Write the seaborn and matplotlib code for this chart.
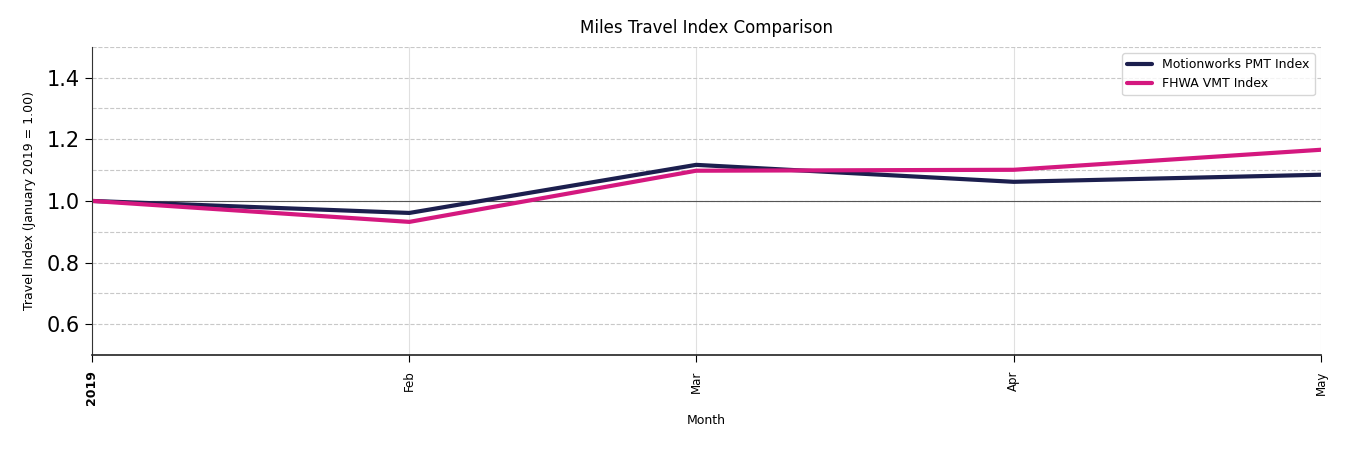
import numpy as np
import pandas as pd
import seaborn as sns
import matplotlib
matplotlib.use("Agg")
import matplotlib.pyplot as plt
from matplotlib.ticker import MultipleLocator

# monthly index values (January 2019 = 1.00)
months = ["2019-01-01", "2019-02-01", "2019-03-01", "2019-04-01", "2019-05-01"]
motionworks_pmt = [1.000, 0.961, 1.117, 1.062, 1.085]
fhwa_vmt = [1.000, 0.932, 1.098, 1.101, 1.166]
series_names = ["Motionworks PMT Index", "FHWA VMT Index"]
tick_labels = ["2019", "Feb", "Mar", "Apr", "May"]

df = pd.DataFrame({
    "Month": pd.to_datetime(months * 2),
    "Index": motionworks_pmt + fhwa_vmt,
    "Series": [series_names[0]] * len(months) + [series_names[1]] * len(months),
})

sns.set_style("white")
plt.rcParams["font.family"] = ["DejaVu Sans"]
plt.rcParams["text.color"] = "black"
plt.rcParams["axes.labelcolor"] = "black"
plt.rcParams["xtick.color"] = "black"
plt.rcParams["ytick.color"] = "black"

fig, ax = plt.subplots(figsize=(13.5, 4.5), dpi=100)
fig.subplots_adjust(left=0.068, right=0.9785, top=0.896, bottom=0.211)

palette = {series_names[0]: "#1c1f4e", series_names[1]: "#d4187f"}
sns.lineplot(data=df, x="Month", y="Index", hue="Series", palette=palette,
             linewidth=3, ax=ax)

ax.axhline(1.0, color="#555555", linewidth=0.8, zorder=1)

ax.set_ylim(0.5, 1.5)
ax.set_xlim(pd.Timestamp(months[0]), pd.Timestamp(months[-1]))
ax.yaxis.set_major_locator(MultipleLocator(0.2))
ax.yaxis.set_minor_locator(MultipleLocator(0.1))
ax.grid(axis="y", which="both", linestyle="--", color="#c8c8c8", linewidth=0.8)
ax.grid(axis="x", which="major", linestyle="-", color="#e0e0e0", linewidth=0.8)
ax.tick_params(axis="y", which="minor", length=0)
ax.tick_params(axis="y", which="major", labelsize=15, length=5, left=True)
ax.tick_params(axis="x", which="major", labelsize=8.5, length=5, pad=6, bottom=True)

ax.set_xticks(pd.to_datetime(months))
ax.set_xticklabels(tick_labels, rotation=90)
ax.get_xticklabels()[0].set_fontweight("bold")
ax.get_xticklabels()[0].set_fontsize(9)

for s in ["top", "right"]:
    ax.spines[s].set_visible(False)
ax.spines["left"].set_color("#333333")
ax.spines["bottom"].set_color("#222222")
ax.spines["bottom"].set_linewidth(1.2)

ax.set_title("Miles Travel Index Comparison", fontsize=12, pad=10)
ax.set_xlabel("Month", fontsize=9, labelpad=6.5)
ax.set_ylabel("Travel Index (January 2019 = 1.00)", fontsize=9, labelpad=8)
ax.legend(loc="upper right", fontsize=9, title=None, frameon=True)

fig.savefig("out.png", dpi=100)
